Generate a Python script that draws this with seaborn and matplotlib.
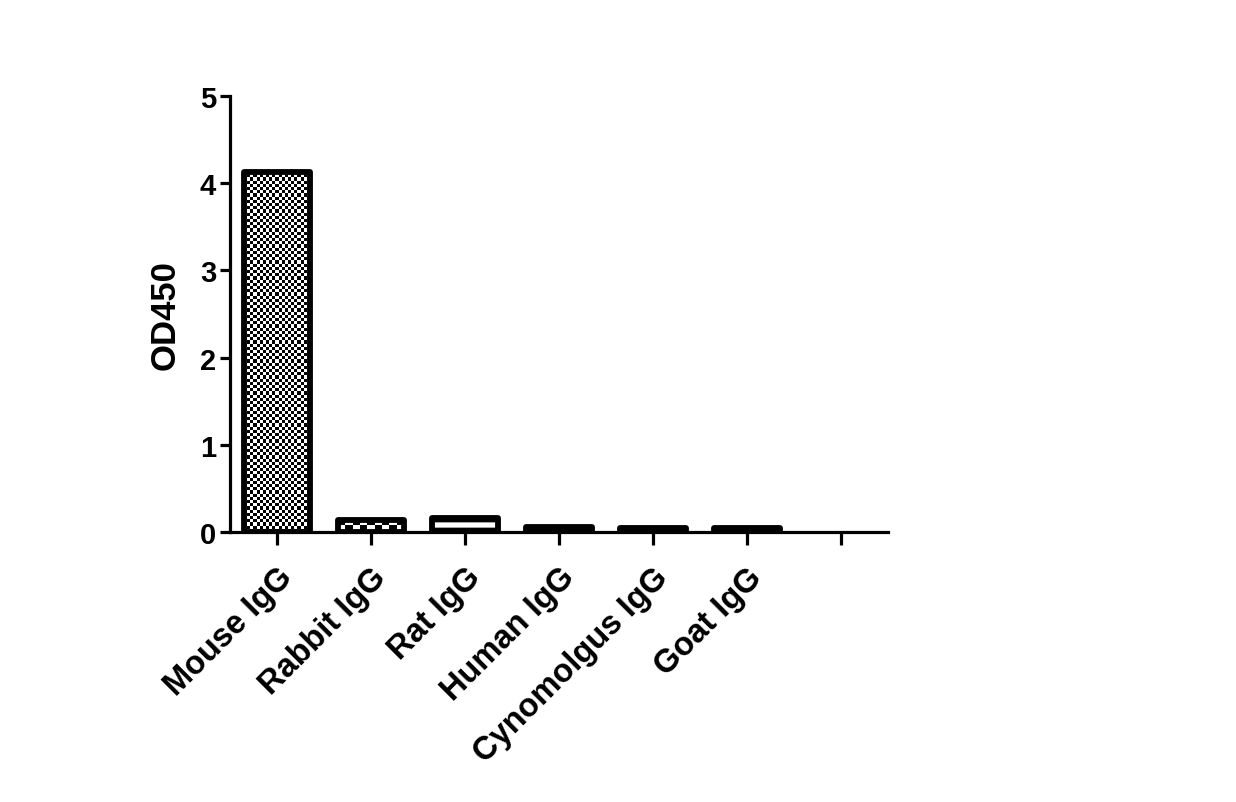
import numpy as np
import pandas as pd
import matplotlib
matplotlib.use("Agg")
import matplotlib.pyplot as plt
import seaborn as sns

# Data
categories = ["Mouse IgG", "Rabbit IgG", "Rat IgG", "Human IgG",
              "Cynomolgus IgG", "Goat IgG"]
od450 = [4.13, 0.14, 0.16, 0.06, 0.05, 0.05]
slot_order = categories + [""]   # last slot on the axis is empty
y_ticks = [0, 1, 2, 3, 4, 5]

df = pd.DataFrame({"sample": categories, "OD450": od450})

sns.set_style("white")
plt.rcParams["font.family"] = ["Liberation Sans", "DejaVu Sans"]
plt.rcParams["font.weight"] = "bold"
plt.rcParams["text.color"] = "black"
plt.rcParams["axes.labelcolor"] = "black"
plt.rcParams["xtick.color"] = "black"
plt.rcParams["ytick.color"] = "black"
plt.rcParams["hatch.linewidth"] = 2.2
plt.rcParams["hatch.color"] = "black"

fig = plt.figure(figsize=(12.36, 8.03), dpi=100)
ax = fig.add_axes([0.1861, 0.3362, 0.5323, 0.5430])

sns.barplot(data=df, x="sample", y="OD450", order=slot_order,
            color="white", width=0.7, edgecolor="black", linewidth=4.2,
            ax=ax)

bars = [p for p in ax.patches]
for p in bars:
    p.set_joinstyle("round")
    p.set_zorder(3)

ax.set_xlim(-0.5, 6.5)
ax.set_ylim(0, 5)


def checker_fill(patch, px):
    # fill a bar with a black/white checkerboard of roughly px-sized squares
    x0, y0 = patch.get_x(), patch.get_y()
    w, h = patch.get_width(), patch.get_height()
    (X0, Y0), (X1, Y1) = ax.transData.transform([(x0, y0), (x0 + w, y0 + h)])
    nx = max(1, int(round(abs(X1 - X0) / px)))
    ny = max(1, int(round(abs(Y1 - Y0) / px)))
    grid = (np.add.outer(np.arange(ny), np.arange(nx)) % 2).astype(float)
    im = ax.imshow(grid, cmap="gray", vmin=0, vmax=1,
                   extent=(x0, x0 + w, y0, y0 + h),
                   interpolation="nearest", aspect="auto", zorder=2)
    im.set_clip_path(patch)
    patch.set_facecolor("none")


checker_fill(bars[0], 3.2)
checker_fill(bars[1], 7)
bars[2].set_hatch("--")
for p in bars[3:6]:
    p.set_facecolor("black")

ax.set_xlim(-0.5, 6.5)
ax.set_ylim(0, 5)

ax.set_yticks(y_ticks)
ax.set_xticks(range(len(slot_order)))
ax.set_xticklabels(slot_order, rotation=45, ha="right",
                   rotation_mode="anchor", fontsize=23.5, fontweight="bold")
for lab in ax.get_yticklabels():
    lab.set_fontsize(21)
    lab.set_fontweight("bold")

ax.set_xlabel("")
ax.set_ylabel("OD450", fontsize=25, fontweight="bold", labelpad=13)

sns.despine(ax=ax)
for side in ["left", "bottom"]:
    ax.spines[side].set_linewidth(2.3)
    ax.spines[side].set_color("black")
ax.tick_params(axis="y", length=7, width=2.3, color="black", pad=3,
               left=True)
ax.tick_params(axis="x", length=9, width=2.3, color="black", pad=12,
               bottom=True)

fig.savefig("out.png", dpi=100, facecolor="white")
